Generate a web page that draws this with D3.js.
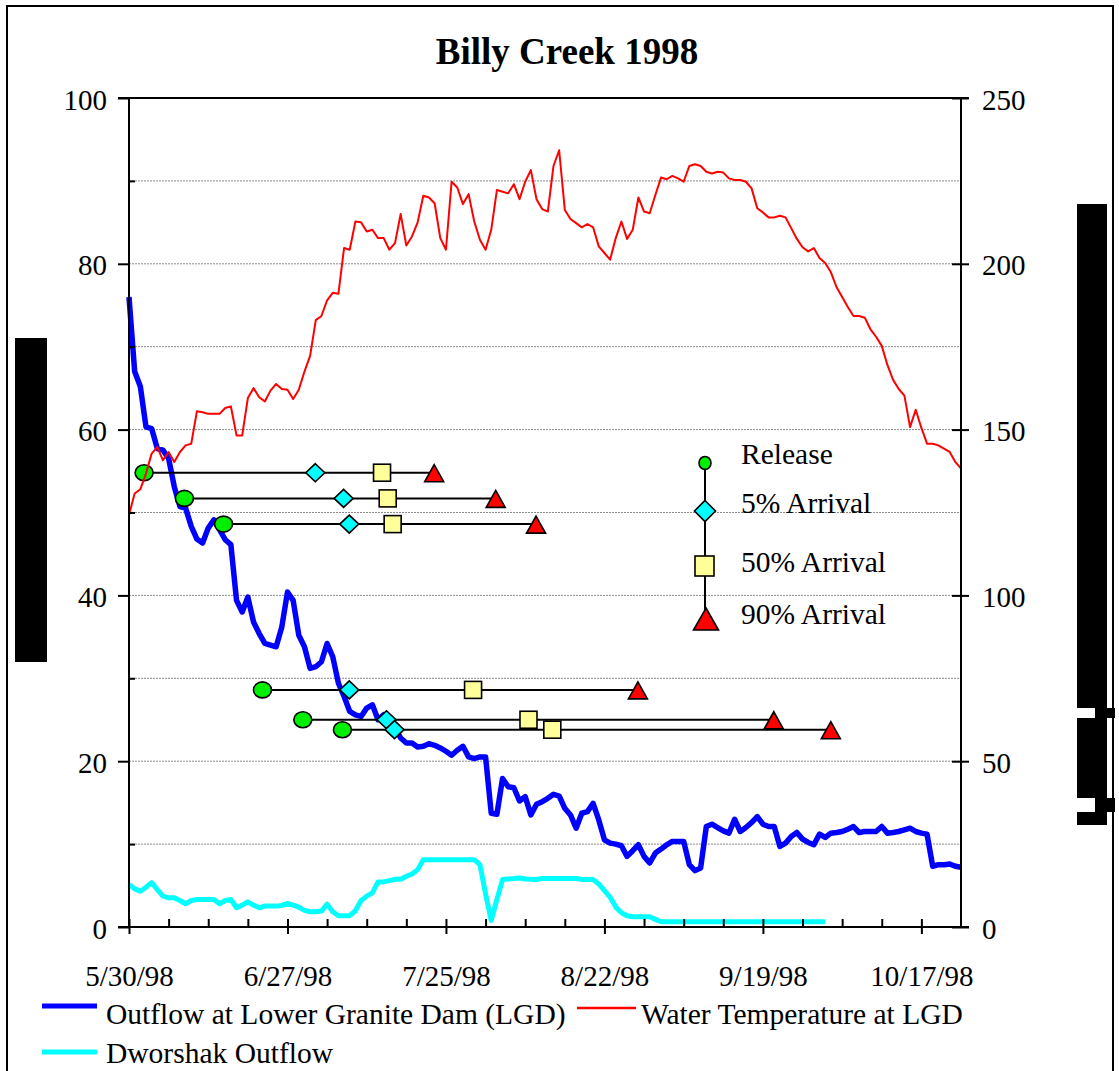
<!DOCTYPE html>
<html>
<head>
<meta charset="utf-8">
<script src="https://cdn.jsdelivr.net/npm/d3@7"></script>
<style>
  html, body { margin: 0; padding: 0; background: #fff; }
  svg { display: block; font-family: "Liberation Serif", "Times New Roman", Times, serif; font-size: 29.5px; }
</style>
</head>
<body>
<svg id="chart" width="1119" height="1071"></svg>
<script>
// ---------------- data ----------------
const chartTitle = "Billy Creek 1998";
const seriesStart = "1998-05-30";
const axisEndDate = "1998-10-24";

// Daily water temperature at LGD (left axis), starting 5/30/98
const waterTemp = [
  49.7,52.3,52.8,54.7,57.1,57.9,56.3,57.3,56.1,57.3,
  58.1,58.3,62.2,62.1,61.9,61.9,61.9,62.6,62.8,59.3,
  59.3,63.8,65.0,63.9,63.4,64.7,65.5,64.9,64.8,63.7,
  64.8,67.0,68.9,73.2,73.7,75.6,76.5,76.4,81.9,81.7,
  85.1,85.0,83.9,84.1,83.1,83.1,81.7,82.5,86.0,82.2,
  83.3,85.0,88.2,88.0,87.3,83.1,81.7,89.9,89.2,87.2,
  88.4,85.1,82.9,81.7,84.1,88.9,88.7,88.5,89.6,87.8,
  89.9,91.3,87.8,86.6,86.3,91.8,93.7,86.5,85.4,84.9,
  84.4,84.8,84.4,82.1,81.3,80.5,83.1,85.1,83.0,84.1,
  88.0,86.3,86.1,88.3,90.4,90.2,90.6,90.3,89.9,91.8,
  92.0,91.8,91.1,90.9,91.1,91.0,90.3,90.1,90.1,89.9,
  89.1,86.7,86.2,85.6,85.6,85.8,85.6,84.3,83.0,82.0,
  81.5,81.9,80.7,80.1,79.0,77.2,76.0,74.8,73.7,73.7,
  73.5,72.1,71.2,70.1,67.8,66.0,64.9,64.1,60.3,62.4,
  60.2,58.3,58.3,58.1,57.7,57.3,56.1,55.3
];

// Daily outflow at Lower Granite Dam, kcfs (right axis), starting 5/30/98
const lgdOutflow = [
  190,167.5,163,150.8,150.3,144.3,143.8,141.3,132.8,126.8,
  126.3,120.8,117,115.8,120.3,122.8,119.8,116.8,115.3,98.5,
  95,99.5,92,88.5,85.5,85,84.5,90.5,101,98.5,
  88,84.5,78,78.5,80,85.5,81.5,73.5,69.5,65,
  64,63.5,66,67,62.5,64,62,60,57,55.5,
  55.5,54.3,54.5,55.3,54.8,54,53,51.8,53.3,54.5,
  51.3,50.8,51.3,51.3,34.3,34,44.8,42.3,42,38,
  39.3,33.8,37,37.8,38.8,40,39.5,35.8,33.8,29.8,
  34.3,34.8,37.3,32.3,26.3,25.3,25,24.5,21.3,23,
  24.8,21.3,19.3,22.3,23.5,24.8,25.8,25.8,25.8,18.8,
  17,17.8,30.3,31,30,29,28.3,32.5,28.8,30,
  31.5,33.3,31,30.3,30.3,24.3,25.3,27.3,28.5,26.5,
  25.5,24.8,28,27,28.3,28.5,28.8,29.5,30.3,28.5,
  28.8,28.8,28.8,30.3,28.3,28.5,28.8,29.3,29.8,28.8,
  28.3,28,18.3,18.8,18.8,19,18.3,18
];

// Daily Dworshak outflow, kcfs (right axis), starting 5/30/98
const dworshakOutflow = [
  12.8,11.5,10.8,12,13.4,11.3,9.3,8.8,8.8,8,
  7,8,8.3,8.3,8.3,8.3,7,8,8.3,5.8,
  6.6,7.6,6.6,5.8,6.3,6.3,6.3,6.5,7.1,6.6,
  6,5,4.6,4.6,4.8,6.9,4.6,3.4,3.4,3.4,
  4.9,8,9.3,10.3,13.6,13.6,14,14.4,14.4,15.3,
  16,17.3,20.3,20.3,20.3,20.3,20.3,20.3,20.3,20.3,
  20.3,20.3,18.8,10,2,8.3,14.3,14.5,14.6,14.8,
  14.5,14.4,14.3,14.6,14.6,14.6,14.6,14.6,14.6,14.6,
  14.3,14.3,14.3,13,11,9,6,4.3,3.4,3.1,
  3.1,3.1,3.1,2.3,1.6,1.6,1.6,1.6,1.6,1.6,
  1.6,1.6,1.6,1.6,1.6,1.6,1.6,1.6,1.6,1.6,
  1.6,1.6,1.6,1.6,1.6,1.6,1.6,1.6,1.6,1.6,
  1.6,1.6,1.6,1.6
];

// Weekly release groups: release time and 5% / 50% / 90% arrival times at LGD
const releaseTimes = ["1998-06-01T16:00","1998-06-08T19:00","1998-06-15T17:00","1998-06-22T14:00","1998-06-29T17:00","1998-07-06T17:00"];
const arrival5     = ["1998-07-01T22:00","1998-07-06T22:00","1998-07-07T22:00","1998-07-07T22:00","1998-07-14T12:00","1998-07-15T22:00"];
const arrival50    = ["1998-07-13T17:00","1998-07-14T17:00","1998-07-15T14:00","1998-07-29T19:00","1998-08-08T14:00","1998-08-12T19:00"];
const arrival90    = ["1998-07-22T22:00","1998-08-02T19:00","1998-08-09T22:00","1998-08-27T22:00","1998-09-20T22:00","1998-10-01T00:00"];
const groupLevel   = [54.8, 51.7, 48.6, 28.6, 25.0, 23.8];

const leftTicks = [0, 20, 40, 60, 80, 100];
const leftMinorTicks = [10, 30, 50, 70, 90];
const rightTicks = [0, 50, 100, 150, 200, 250];
const xTickLabels = ["5/30/98", "6/27/98", "7/25/98", "8/22/98", "9/19/98", "10/17/98"];

const markerLegendLabels = ["Release", "5% Arrival", "50% Arrival", "90% Arrival"];
const seriesLegendLabels = ["Outflow at Lower Granite Dam (LGD)", "Water Temperature at LGD", "Dworshak Outflow"];

// ---------------- setup ----------------
const svg = d3.select("#chart");
const P = { left: 129, right: 961, top: 98, bottom: 927 };

const parseDay = d3.timeParse("%Y-%m-%d");
const parseTime = d3.timeParse("%Y-%m-%dT%H:%M");
const parseTick = d3.timeParse("%m/%d/%y");
const t0 = parseDay(seriesStart);
const t1 = parseDay(axisEndDate);

const x = d3.scaleTime().domain([t0, t1]).range([P.left, P.right]);
const yL = d3.scaleLinear().domain([0, 100]).range([P.bottom, P.top]);
const yR = d3.scaleLinear().domain([0, 250]).range([P.bottom, P.top]);

const daily = arr => arr.map((v, i) => ({ date: d3.timeDay.offset(t0, i), v }));

const COL = { blue: "#0000ff", red: "#ff0000", cyan: "#00ffff", green: "#00ee00", yellow: "#ffff99" };

// outer frame
svg.append("rect").attr("x", 7).attr("y", 6).attr("width", 1106).attr("height", 1100)
  .attr("fill", "none").attr("stroke", "#000").attr("stroke-width", 2);

// redacted side blocks
const blocks = svg.append("g").attr("fill", "#000");
blocks.append("rect").attr("x", 15).attr("y", 338).attr("width", 32).attr("height", 324);
blocks.append("rect").attr("x", 1077).attr("y", 204).attr("width", 30).attr("height", 504);
blocks.append("rect").attr("x", 1095).attr("y", 708).attr("width", 20).attr("height", 10);
blocks.append("rect").attr("x", 1077).attr("y", 718).attr("width", 30).attr("height", 80);
blocks.append("rect").attr("x", 1095).attr("y", 798).attr("width", 20).attr("height", 14);
blocks.append("rect").attr("x", 1077).attr("y", 812).attr("width", 30).attr("height", 13);

// title
svg.append("text").attr("x", 567).attr("y", 64).attr("text-anchor", "middle")
  .attr("font-size", 37).attr("font-weight", "bold").text(chartTitle);

// gridlines
svg.append("g").selectAll("line").data(d3.range(10, 100, 10)).join("line")
  .attr("x1", P.left).attr("x2", P.right)
  .attr("y1", d => yL(d)).attr("y2", d => yL(d))
  .attr("stroke", "#8a8a8a").attr("stroke-width", 1).attr("stroke-dasharray", "2,1");

// ---------------- series ----------------
const lineL = d3.line().x(d => x(d.date)).y(d => yL(d.v));
const lineR = d3.line().x(d => x(d.date)).y(d => yR(d.v));

svg.append("path").datum(daily(dworshakOutflow)).attr("d", lineR)
  .attr("fill", "none").attr("stroke", COL.cyan).attr("stroke-width", 5).attr("stroke-linejoin", "round");

svg.append("path").datum(daily(lgdOutflow)).attr("d", lineR)
  .attr("fill", "none").attr("stroke", COL.blue).attr("stroke-width", 5.5).attr("stroke-linejoin", "round");

// release groups
const groups = groupLevel.map((lvl, i) => ({
  lvl,
  rel: parseTime(releaseTimes[i]),
  a5: parseTime(arrival5[i]),
  a50: parseTime(arrival50[i]),
  a90: parseTime(arrival90[i])
}));

const diamond = (w, h) => `M0,${-h}L${w},0L0,${h}L${-w},0Z`;
const triangle = (w, up, down) => `M0,${-up}L${w / 2},${down}L${-w / 2},${down}Z`;

const gg = svg.append("g");
gg.selectAll("line").data(groups).join("line")
  .attr("x1", d => x(d.rel)).attr("x2", d => x(d.a90))
  .attr("y1", d => yL(d.lvl)).attr("y2", d => yL(d.lvl))
  .attr("stroke", "#000").attr("stroke-width", 2);
gg.selectAll("ellipse").data(groups).join("ellipse")
  .attr("cx", d => x(d.rel)).attr("cy", d => yL(d.lvl)).attr("rx", 9).attr("ry", 8)
  .attr("fill", COL.green).attr("stroke", "#000").attr("stroke-width", 1.6);
gg.selectAll("path.d5").data(groups).join("path").attr("class", "d5")
  .attr("transform", d => `translate(${x(d.a5)},${yL(d.lvl)})`).attr("d", diamond(9.5, 9))
  .attr("fill", COL.cyan).attr("stroke", "#000").attr("stroke-width", 1.6);
gg.selectAll("rect").data(groups).join("rect")
  .attr("x", d => x(d.a50) - 8.5).attr("y", d => yL(d.lvl) - 8.5).attr("width", 17).attr("height", 17)
  .attr("fill", COL.yellow).attr("stroke", "#000").attr("stroke-width", 1.6);
gg.selectAll("path.d90").data(groups).join("path").attr("class", "d90")
  .attr("transform", d => `translate(${x(d.a90)},${yL(d.lvl)})`).attr("d", triangle(19, 8, 9))
  .attr("fill", COL.red).attr("stroke", "#000").attr("stroke-width", 1.6);

svg.append("path").datum(daily(waterTemp)).attr("d", lineL)
  .attr("fill", "none").attr("stroke", COL.red).attr("stroke-width", 2).attr("stroke-linejoin", "round");

// ---------------- axes ----------------
const styleAxis = g => {
  g.attr("font-size", null).attr("font-family", null);
  g.select(".domain").remove();
  g.selectAll(".tick line").attr("stroke", "#000").attr("stroke-width", 2);
  g.selectAll(".tick text").attr("fill", "#000").attr("font-size", 29);
};

// left: major ticks outward, minor ticks inward
svg.append("g").attr("transform", `translate(${P.left},0)`)
  .call(d3.axisLeft(yL).tickValues(leftTicks).tickSize(11).tickSizeOuter(0).tickFormat(d3.format("d")))
  .call(styleAxis)
  .call(g => g.selectAll(".tick text").attr("x", -22).attr("dy", null).attr("y", 11));
svg.append("g").attr("transform", `translate(${P.left},0)`)
  .call(d3.axisRight(yL).tickValues(leftMinorTicks).tickSize(6).tickSizeOuter(0).tickFormat(""))
  .call(styleAxis);

// right: ticks crossing the axis
svg.append("g").attr("transform", `translate(${P.right},0)`)
  .call(d3.axisRight(yR).tickValues(rightTicks).tickSize(8).tickSizeOuter(0).tickFormat(d3.format("d")))
  .call(styleAxis)
  .call(g => g.selectAll(".tick line").attr("x1", -9))
  .call(g => g.selectAll(".tick text").attr("x", 21).attr("dy", null).attr("y", 11));

// bottom: 4-week major ticks with labels, weekly minor ticks inward
const majorDates = xTickLabels.map(parseTick);
const minorDates = d3.range(7, 147, 7).filter(i => i % 28 !== 0).map(i => d3.timeDay.offset(t0, i));
svg.append("g").attr("transform", `translate(0,${P.bottom})`)
  .call(d3.axisBottom(x).tickValues(majorDates).tickSize(7).tickSizeOuter(0).tickFormat(d3.timeFormat("%-m/%-d/%y")))
  .call(styleAxis)
  .call(g => g.selectAll(".tick line").attr("y1", -8))
  .call(g => g.selectAll(".tick text").attr("dy", null).attr("y", 59));
svg.append("g").attr("transform", `translate(0,${P.bottom})`)
  .call(d3.axisTop(x).tickValues(minorDates).tickSize(8).tickSizeOuter(0).tickFormat(""))
  .call(styleAxis);

// plot frame
const frame = svg.append("g").attr("stroke", "#000").attr("stroke-width", 2);
frame.append("line").attr("x1", P.left).attr("x2", P.left).attr("y1", P.top - 1).attr("y2", P.bottom + 1);
frame.append("line").attr("x1", P.right).attr("x2", P.right).attr("y1", P.top - 1).attr("y2", P.bottom + 1);
frame.append("line").attr("x1", P.left - 11).attr("x2", P.right + 8).attr("y1", P.bottom).attr("y2", P.bottom);
frame.append("line").attr("x1", P.left - 11).attr("x2", P.right + 8).attr("y1", P.top).attr("y2", P.top);

// ---------------- marker legend ----------------
const ml = svg.append("g");
ml.append("line").attr("x1", 705).attr("x2", 705).attr("y1", 463).attr("y2", 612)
  .attr("stroke", "#000").attr("stroke-width", 2);
ml.append("ellipse").attr("cx", 705).attr("cy", 463).attr("rx", 6).attr("ry", 6.5)
  .attr("fill", COL.green).attr("stroke", "#000").attr("stroke-width", 1.6);
ml.append("path").attr("transform", "translate(705,511)").attr("d", diamond(10.5, 10.5))
  .attr("fill", COL.cyan).attr("stroke", "#000").attr("stroke-width", 1.6);
ml.append("rect").attr("x", 695).attr("y", 556).attr("width", 19).attr("height", 20)
  .attr("fill", COL.yellow).attr("stroke", "#000").attr("stroke-width", 1.6);
ml.append("path").attr("transform", "translate(706,619)").attr("d", triangle(25, 11, 11))
  .attr("fill", COL.red).attr("stroke", "#000").attr("stroke-width", 1.6);
const mlY = [464, 513, 572, 624];
ml.selectAll("text").data(markerLegendLabels).join("text")
  .attr("x", 741).attr("y", (d, i) => mlY[i]).text(d => d);

// ---------------- series legend ----------------
const sl = svg.append("g");
const slItems = [
  { label: seriesLegendLabels[0], color: COL.blue, w: 5, x: 42, len: 55, y: 1006, tx: 106, ty: 1024 },
  { label: seriesLegendLabels[1], color: COL.red, w: 2.5, x: 577, len: 59, y: 1008, tx: 641, ty: 1024 },
  { label: seriesLegendLabels[2], color: COL.cyan, w: 5, x: 42, len: 55, y: 1052, tx: 106, ty: 1063 }
];
slItems.forEach(it => {
  sl.append("line").attr("x1", it.x).attr("x2", it.x + it.len).attr("y1", it.y).attr("y2", it.y)
    .attr("stroke", it.color).attr("stroke-width", it.w);
  sl.append("text").attr("x", it.tx).attr("y", it.ty).text(it.label);
});
</script>
</body>
</html>
